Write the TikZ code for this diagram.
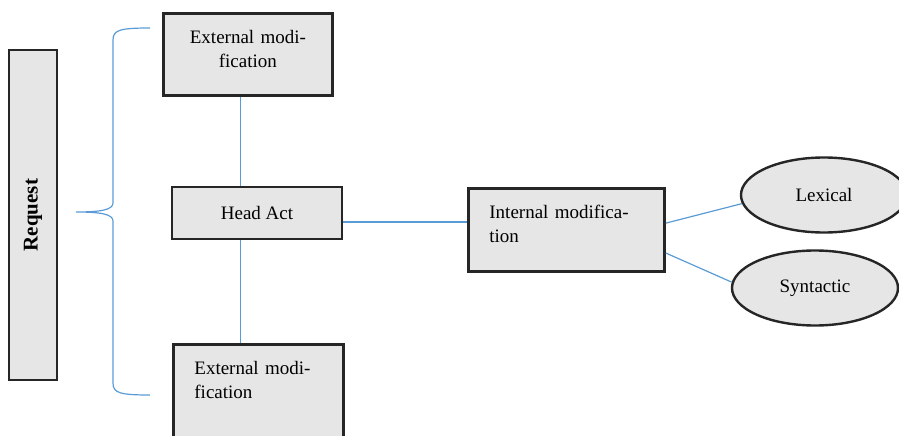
\documentclass[tikz,border=0pt]{standalone}
\usepackage{fontspec}
\setmainfont{Liberation Serif}
\usetikzlibrary{positioning, shapes.geometric, calc}
\definecolor{grisboite}{RGB}{230,230,230}
\definecolor{traitbord}{RGB}{38,38,38}
\definecolor{bleulien}{RGB}{91,155,213}

\begin{document}
\begin{tikzpicture}[x=1pt, y=-1pt,
    boite/.style={rectangle, draw=traitbord, line width=2.8pt, fill=grisboite,
                  inner xsep=21pt, inner ysep=17pt, font=\fontsize{19}{24}\selectfont},
    creux/.style={execute at end node={\rule[-#1]{0pt}{#1}}},
    bulle/.style={ellipse, draw=traitbord, line width=2.4pt, fill=grisboite,
                  minimum width=166pt, minimum height=75pt, font=\fontsize{19}{24}\selectfont},
    lien/.style={draw=bleulien, line width=1.2pt}]
    \useasboundingbox (0,0) rectangle (899,436);
    \clip (0,0) rectangle (899,436);
    % left label and brace
    \node[boite, rotate=90, minimum width=330pt, minimum height=48pt, inner sep=0pt,
          font=\fontsize{21}{24}\selectfont\bfseries] (req) at (33,215) {Request};
    \draw[lien] (150,28) .. controls (120,28) and (113,30) .. (113,40) -- (113,203)
        .. controls (113,210) and (100,212) .. (76,212)
        .. controls (100,212) and (113,214) .. (113,221) -- (113,383)
        .. controls (113,393) and (120,395) .. (150,395);
    % boxes
    \node[boite, creux=11pt, anchor=north west, minimum width=169pt, text width=127pt,
          align=center] (ext1) at (162,12) {External modi-\\fication};
    \node[boite, minimum width=170pt, minimum height=52pt] (head) at (257,213) {Head Act};
    \node[boite, creux=80pt, anchor=north west, minimum width=170pt, text width=128pt,
          align=left] (ext2) at (172,343) {External modi-\\fication};
    \node[boite, creux=12pt, anchor=north west, minimum width=196pt, text width=154pt,
          align=left] (int) at (467,187) {Internal modifica-\\tion};
    \node[bulle] (lex) at (824,195) {Lexical};
    \node[bulle] (syn) at (815,288) {Syntactic};
    % links
    \draw[lien] ($(head.north west)!0.403!(head.north east)$) coordinate (h1) -- (h1 |- ext1.south);
    \draw[lien] ($(head.south west)!0.403!(head.south east)$) coordinate (h2) -- (h2 |- ext2.north);
    \draw[lien] (head.-6) -- (head.-6 -| int.west);
    \draw[lien] (int.4) -- (lex.186);
    \draw[lien] (int.-13.5) -- (syn.176);
\end{tikzpicture}
\end{document}
